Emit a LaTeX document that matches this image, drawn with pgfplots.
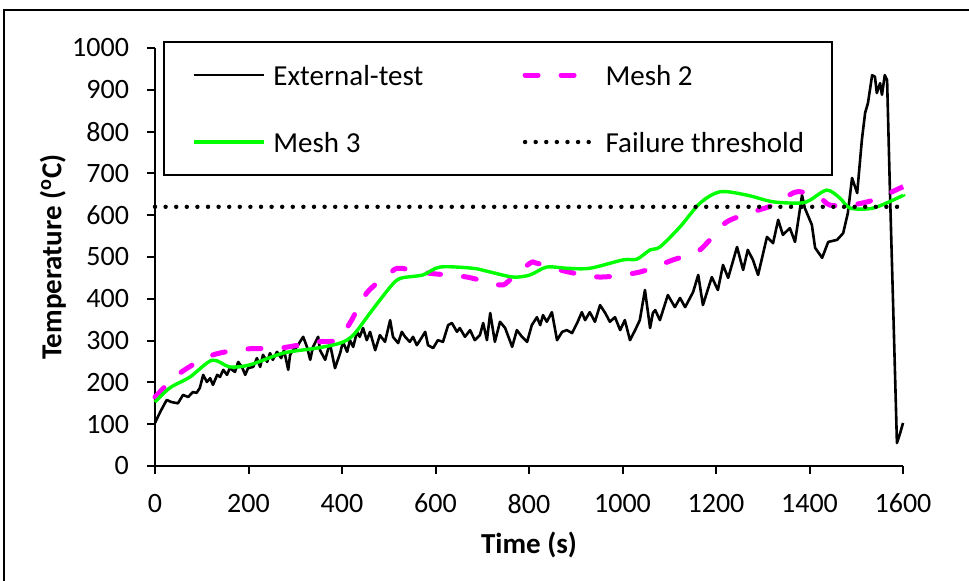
\documentclass[border=0pt]{standalone}
\usepackage{fontspec}
\setmainfont{Carlito}
\usepackage{pgfplots}
\pgfplotsset{compat=1.18}
\definecolor{mag}{RGB}{255,0,255}
\definecolor{lime}{RGB}{0,255,0}
\begin{document}
\begin{tikzpicture}
\path[use as bounding box] (0,0) rectangle (484.5pt,290.5pt);
\draw[line width=1pt] (2pt,-5pt) -- (2pt,285.5pt) -- (500pt,285.5pt);
\begin{axis}[
  at={(77.5pt,57.5pt)}, anchor=south west,
  scale only axis, width=374pt, height=209pt,
  xmin=0, xmax=1600, ymin=0, ymax=1000,
  clip=false,
  axis x line=bottom, axis y line=left,
  axis line style={-, line width=1pt},
  xtick={0,200,...,1600}, ytick={0,100,...,1000},
  tick align=outside,
  major tick length=4pt,
  tick style={line width=1pt, black},
  /pgf/number format/assume math mode=true,
  /pgf/number format/set thousands separator={},
  ticklabel style={font=\fontsize{14}{16}\selectfont},
  xticklabel style={yshift=-6.5pt},
  yticklabel style={xshift=-5.5pt},
  xlabel={Time (s)}, ylabel={Temperature (\textsuperscript{o}C)},
  label style={font=\fontsize{14.5}{17}\selectfont\bfseries},
  x label style={at={(axis description cs:0.5,-0.189)}, anchor=center},
  y label style={at={(axis description cs:-0.1364,0.5)}, anchor=center},
  legend columns=2,
  legend cell align=left,
  legend style={at={(axis description cs:0.0107,1.0167)}, anchor=north west,
    draw=black, line width=1pt, font=\fontsize{14.5}{17}\selectfont,
    inner xsep=14pt, inner ysep=11.5pt, row sep=23.5pt,
    nodes={inner sep=0pt, text height=10pt, text depth=0pt},
    /tikz/every odd column/.style={column sep=4pt},
    /tikz/every even column/.style={column sep=49.6pt}},
  legend image code/.code={\draw[#1] (0pt,0pt) -- (35pt,0pt);},
]
\pgfplotsinvokeforeach{0,200,...,1600}{\draw[line width=1pt, black] (axis cs:#1,0) -- ++(0pt,-4pt);}
\pgfplotsinvokeforeach{0,100,...,1000}{\draw[line width=1pt, black] (axis cs:0,#1) -- ++(-4pt,0pt);}
\addplot[black, line width=1.3pt, line join=round] coordinates {
(0,103) (11,129) (25,158) (35,153) (49,150) (60,170) (71,165) (81,177) (89,175)
(96,187) (103,218) (111,201) (118,210) (124,194) (133,218) (139,213) (146,230)
(154,218) (160,234) (171,225) (178,249) (186,237) (193,218) (199,234) (210,237)
(218,258) (225,237) (231,266) (240,249) (246,270) (252,254) (261,273) (270,258)
(276,277) (282,246) (285,230) (289,266) (295,277) (304,285) (310,297) (317,309)
(325,285) (332,254) (338,285) (349,309) (353,277) (364,254) (374,294) (385,234)
(396,270) (402,297) (411,273) (417,301) (424,285) (432,321) (438,309) (445,330)
(453,301) (460,321) (471,277) (481,313) (492,297) (503,349) (509,309) (520,294)
(528,321) (535,309) (545,297) (552,309) (560,289) (567,301) (578,321) (584,289)
(595,282) (605,301) (616,297) (627,337) (635,342) (646,321) (652,330) (663,309)
(674,325) (684,301) (695,313) (702,342) (710,301) (717,366) (727,297) (738,345)
(749,330) (764,285) (774,325) (785,309) (796,297) (806,337) (817,356) (824,337)
(830,361) (838,345) (849,368) (860,301) (871,321) (881,325) (892,318) (903,342)
(913,368) (920,349) (930,368) (941,345) (952,385) (963,366) (973,345) (984,356)
(995,325) (1005,349) (1016,301) (1027,325) (1037,349) (1048,421) (1059,330)
(1065,366) (1070,373) (1080,349)
(1097,409) (1112,380) (1123,402) (1134,380) (1151,416) (1162,457) (1172,385)
(1191,452) (1204,421) (1215,481) (1226,450) (1245,524) (1258,469) (1268,517)
(1279,493) (1290,457) (1309,548) (1322,533) (1333,589) (1343,553) (1358,569)
(1369,536) (1384,648) (1390,617) (1405,577) (1412,522) (1427,498) (1440,536)
(1459,541) (1472,557) (1482,605) (1491,689) (1502,653) (1512,780) (1519,845)
(1525,868) (1534,935) (1540,931) (1544,892) (1551,916) (1555,888) (1561,935)
(1566,923) (1572,660) (1579,380) (1587,55) (1594,79) (1600,103)
};
\addlegendentry{External-test}
\addplot[mag, line width=2.5pt, smooth, tension=0.5, line cap=round, dash pattern=on 6.5pt off 11.5pt] coordinates {
(0,165) (53,222) (122,265) (197,280) (267,282) (346,297) (389,301) (417,342)
(453,414) (503,462) (524,473) (588,461) (667,452) (738,433) (759,445) (802,485)
(817,485) (881,465) (952,452) (1037,464) (1108,493) (1159,512) (1187,541)
(1223,584) (1279,608) (1322,624) (1373,656) (1422,641) (1444,624) (1487,624)
(1536,636) (1594,665) (1600,668)
};
\addlegendentry{Mesh 2}
\addplot[lime, line width=1.7pt, smooth, tension=0.5] coordinates {
(0,153) (32,187) (75,213) (122,253) (160,237) (203,242) (274,270) (346,282)
(396,294) (424,313) (460,366) (503,428) (525,449) (573,457) (610,476) (680,473)
(717,464) (766,452) (802,457) (838,476) (881,473) (930,473) (1001,493) (1031,495)
(1059,517) (1080,524) (1123,572) (1166,629) (1209,656) (1266,648) (1322,632)
(1380,629) (1401,636) (1437,660) (1465,641) (1487,617) (1536,617) (1594,644) (1600,648)
};
\addlegendentry{Mesh 3}
\addplot[black, line width=2.2pt, line cap=round, dash pattern=on 0pt off 5.3pt] coordinates {
(0,620) (1600,620)
};
\addlegendentry{Failure threshold}
\end{axis}
\end{tikzpicture}
\end{document}
